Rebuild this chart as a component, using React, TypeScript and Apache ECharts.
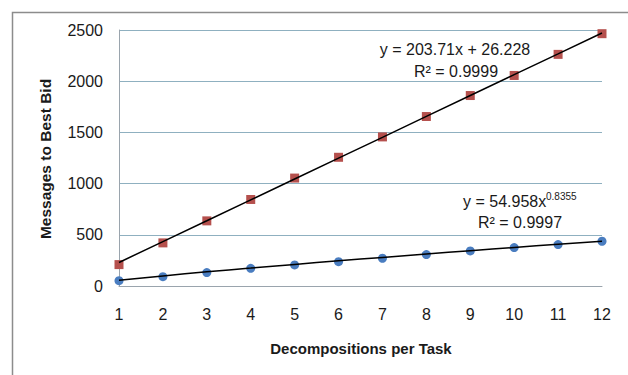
import React, { useEffect, useRef } from "react";
import * as echarts from "echarts";

const categories = ["1", "2", "3", "4", "5", "6", "7", "8", "9", "10", "11", "12"];
const linearSeries = [209, 421, 636, 845, 1054, 1257, 1456, 1655, 1860, 2056, 2262, 2464];
const powerSeries = [52, 91, 131, 173, 206, 238, 271, 307, 343, 375, 405, 437];
const linearTrend = [230, 434, 637, 841, 1045, 1249, 1452, 1656, 1860, 2064, 2267, 2471];
const powerTrend = [55, 98, 138, 175, 211, 246, 279, 312, 345, 376, 408, 438];
const yTicks = { min: 0, max: 2500, interval: 500 };

const FONT = "'Liberation Sans', Arial, sans-serif";

export default function App() {
  const ref = useRef<HTMLDivElement>(null);
  useEffect(() => {
    if (!ref.current) return;
    const chart = echarts.init(ref.current, null, { renderer: "svg" });
    chart.setOption({
      animation: false,
      backgroundColor: "#ffffff",
      textStyle: { fontFamily: FONT },
      grid: { left: 119, right: 26, top: 30, bottom: 89, containLabel: false },
      xAxis: {
        type: "category",
        data: categories,
        boundaryGap: false,
        axisLine: { show: true, lineStyle: { color: "#9aa4ad", width: 1 } },
        axisTick: { show: false },
        axisLabel: { color: "#1a1a1a", fontSize: 16, margin: 20, fontFamily: FONT },
        splitLine: { show: false },
      },
      yAxis: {
        type: "value",
        min: yTicks.min,
        max: yTicks.max,
        interval: yTicks.interval,
        axisLine: { show: true, lineStyle: { color: "#9aa4ad", width: 1 } },
        axisTick: { show: false },
        axisLabel: {
          color: "#1a1a1a",
          fontSize: 16,
          margin: 16,
          fontFamily: FONT,
          formatter: (v: number) => String(v),
        },
        splitLine: { show: true, lineStyle: { color: "#8fb0c0", width: 1 } },
      },
      graphic: [
        {
          type: "rect",
          shape: { x: 12.5, y: 12.5, width: 700, height: 500 },
          style: { fill: "none", stroke: "#8c8c8c", lineWidth: 1.5 },
          silent: true,
        },
        {
          type: "text",
          x: 361,
          y: 348,
          style: {
            text: "Decompositions per Task",
            font: `bold 15px ${FONT}`,
            fill: "#1a1a1a",
            textAlign: "center",
            textVerticalAlign: "middle",
          },
        },
        {
          type: "text",
          x: 45,
          y: 159,
          rotation: Math.PI / 2,
          style: {
            text: "Messages to Best Bid",
            font: `bold 15.5px ${FONT}`,
            fill: "#1a1a1a",
            textAlign: "center",
            textVerticalAlign: "middle",
          },
        },
        {
          type: "text",
          x: 455,
          y: 49,
          style: {
            text: "y = 203.71x + 26.228",
            font: `16px ${FONT}`,
            fill: "#1a1a1a",
            textAlign: "center",
            textVerticalAlign: "middle",
          },
        },
        {
          type: "text",
          x: 456,
          y: 71,
          style: {
            text: "R² = 0.9999",
            font: `16px ${FONT}`,
            fill: "#1a1a1a",
            textAlign: "center",
            textVerticalAlign: "middle",
          },
        },
        {
          type: "text",
          x: 463,
          y: 201,
          style: {
            text: "y = 54.958x",
            font: `16px ${FONT}`,
            fill: "#1a1a1a",
            textAlign: "left",
            textVerticalAlign: "middle",
          },
        },
        {
          type: "text",
          x: 546,
          y: 196,
          style: {
            text: "0.8355",
            font: `10px ${FONT}`,
            fill: "#1a1a1a",
            textAlign: "left",
            textVerticalAlign: "middle",
          },
        },
        {
          type: "text",
          x: 520,
          y: 222,
          style: {
            text: "R² = 0.9997",
            font: `16px ${FONT}`,
            fill: "#1a1a1a",
            textAlign: "center",
            textVerticalAlign: "middle",
          },
        },
      ],
      series: [
        {
          type: "line",
          data: linearSeries,
          symbol: "rect",
          symbolSize: 9,
          lineStyle: { opacity: 0 },
          itemStyle: { color: "#b5504d" },
          z: 2,
        },
        {
          type: "line",
          data: powerSeries,
          symbol: "circle",
          symbolSize: 9,
          lineStyle: { opacity: 0 },
          itemStyle: { color: "#4a7dc0" },
          z: 2,
        },
        {
          type: "line",
          data: linearTrend,
          symbol: "none",
          lineStyle: { color: "#000000", width: 1.5 },
          z: 5,
        },
        {
          type: "line",
          data: powerTrend,
          symbol: "none",
          smooth: true,
          lineStyle: { color: "#000000", width: 1.5 },
          z: 5,
        },
      ],
    });
    return () => chart.dispose();
  }, []);
  return (
    <div
      ref={ref}
      style={{ position: "absolute", left: 0, top: 0, width: 628, height: 375 }}
    />
  );
}
